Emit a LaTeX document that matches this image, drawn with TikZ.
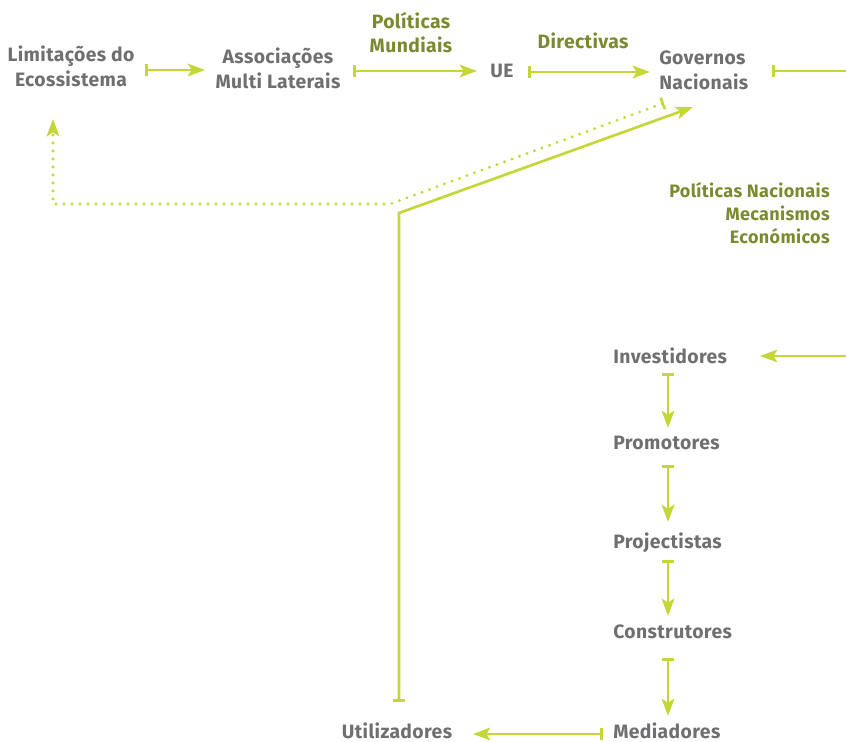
\documentclass[tikz,border=0pt]{standalone}
\usepackage{fontspec}
\setmainfont[LetterSpace=2]{Fira Sans}
\usetikzlibrary{arrows.meta}
\definecolor{lime}{HTML}{C5D637}
\definecolor{olive}{HTML}{7A8A2E}
\definecolor{txtgray}{HTML}{6E6F71}
\tikzset{
  actor/.style={inner sep=0pt, font=\bfseries\fontsize{14.5}{18.75}\selectfont, text=txtgray},
  policy/.style={inner sep=0pt, font=\bfseries\fontsize{14.5}{18}\selectfont, text=olive},
  link/.style={draw=lime, line width=2pt, {Bar[width=9pt,line width=2pt]}-{Stealth[length=13pt,width=9.5pt,inset=3pt]}},
  plain/.style={draw=lime, line width=2pt, {Bar[width=9pt,line width=2pt]}-},
  inlink/.style={draw=lime, line width=2pt, -{Stealth[length=13pt,width=9.5pt,inset=3pt]}},
  dotlink/.style={draw=lime, line width=2.4pt, line cap=round, dash pattern=on 0pt off 6pt,
    {Bar[width=9pt,line width=2pt]}-{Stealth[length=13pt,width=9.5pt,inset=3pt]}},
}
\begin{document}
\begin{tikzpicture}[x=0.75pt,y=-0.75pt]
\useasboundingbox (0,0) rectangle (846,742);
% nodes
\node[actor, align=center] (lim) at (71,66) {Limitações do\\Ecossistema};
\node[actor, align=center] (ass) at (278,68) {Associações\\Multi Laterais};
\node[policy, align=center] (pm) at (411,33) {Políticas\\Mundiais};
\node[actor] (ue) at (502,71) {UE};
\node[policy] (dir) at (583,41) {Directivas};
\node[actor, align=left, anchor=west] (gov) at (659,70) {Governos\\Nacionais};
\node[policy, align=right, anchor=east, font=\bfseries\fontsize{13.5}{17.25}\selectfont] (pn) at (830,213) {Políticas Nacionais\\Mecanismos\\Económicos};
\node[actor, anchor=west] (inv) at (613,356) {Investidores};
\node[actor, anchor=west] (pro) at (613,443) {Promotores};
\node[actor, anchor=west] (prj) at (613,543) {Projectistas};
\node[actor, anchor=west] (con) at (613,632) {Construtores};
\node[actor, anchor=west] (med) at (613,731) {Mediadores};
\node[actor] (uti) at (397,731) {Utilizadores};
\coordinate (govout) at (846,71);
\coordinate (invin) at (846,356);
% connectors
\draw[link] ([shift={(74,4)}]lim.center) -- ([shift={(-73,2)}]ass.center);
\draw[link] ([shift={(75,3)}]ass.center) -- ([shift={(-25,0)}]ue.center);
\draw[link] ([shift={(26,1)}]ue.center) -- ([shift={(-9,2)}]gov.west);
\draw[plain] ([shift={(113,1)}]gov.west) -- (govout);
\draw[link] ([shift={(2,-29)}]uti.center) -- ++(0,-489) -- ([shift={(34,37)}]gov.west);
\draw[dotlink] ([shift={(5,33)}]gov.west) -- ++(-274,101) -- ++(-337,0) -- ([shift={(-18,53)}]lim.center);
\draw[inlink] (invin) -- ([shift={(147,0)}]inv.west);
\draw[link] ([shift={(55,17)}]inv.west) -- ([shift={(55,-15)}]pro.west);
\draw[link] ([shift={(55,22)}]pro.west) -- ([shift={(55,-21)}]prj.west);
\draw[link] ([shift={(55,17)}]prj.west) -- ([shift={(55,-16)}]con.west);
\draw[link] ([shift={(55,26)}]con.west) -- ([shift={(55,-15)}]med.west);
\draw[link] ([shift={(-10,3)}]med.west) -- ([shift={(76,3)}]uti.center);
\end{tikzpicture}
\end{document}
